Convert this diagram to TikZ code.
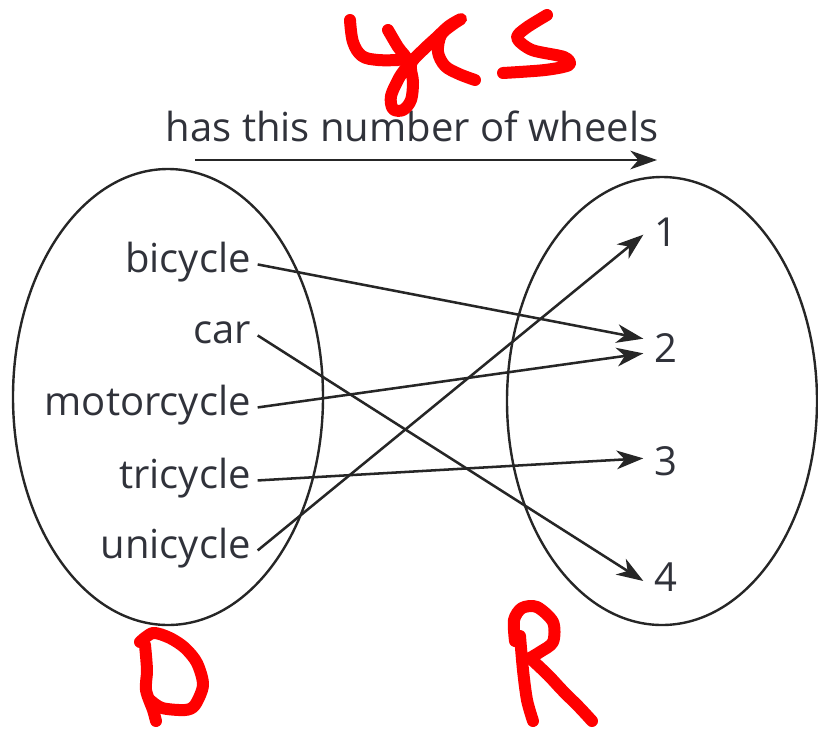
\documentclass[tikz,border=0pt]{standalone}
\usepackage{fontspec}
\setmainfont{Open Sans}
\usetikzlibrary{arrows.meta}
\definecolor{ink}{HTML}{262626}
\definecolor{txt}{HTML}{30323A}
\definecolor{pen}{HTML}{FF0000}
\tikzset{
  setshape/.style={draw=ink, line width=1.8pt},
  lbl/.style={text=txt, font=\fontsize{30}{34}\selectfont, inner sep=0pt},
  dom/.style={lbl, anchor=base east},
  rng/.style={lbl, anchor=west},
  mapline/.style={draw=ink, line width=1.9pt, -{Stealth[length=20pt, width=14pt, inset=6pt]}},
  scrawl/.style={draw=pen, line width=9pt, line cap=round, line join=round}
}
\begin{document}
\begin{tikzpicture}[x=0.75pt, y=-0.75pt]
\useasboundingbox (0,0) rectangle (818,729);
% sets
\draw[setshape] (168,397) ellipse [x radius=155, y radius=228];
\draw[setshape] (662,401) ellipse [x radius=155, y radius=224];
% title and arrow
\node[lbl, anchor=base] (title) at (412,141) {has this number of wheels};
\coordinate (ta) at (195,160);
\coordinate (tb) at (657,160);
\draw[mapline] (ta) -- (tb);
% domain
\node[dom] (bicycle) at (251,272) {bicycle};
\node[dom] (car) at (251,343) {car};
\node[dom] (motorcycle) at (251,415) {motorcycle};
\node[dom] (tricycle) at (251,488) {tricycle};
\node[dom] (unicycle) at (251,558) {unicycle};
% range
\node[rng] (n1) at (654,232) {1};
\node[rng] (n2) at (654,348) {2};
\node[rng] (n3) at (654,461) {3};
\node[rng] (n4) at (654,577) {4};
% mappings
\draw[mapline] ([xshift=5pt,yshift=3pt]bicycle.mid east) -- ([xshift=-8pt,yshift=7pt]n2.west);
\draw[mapline] ([xshift=5pt,yshift=3pt]car.mid east) -- ([xshift=-8pt,yshift=-3pt]n4.west);
\draw[mapline] ([xshift=5pt,yshift=3pt]motorcycle.mid east) -- ([xshift=-8pt,yshift=-4pt]n2.west);
\draw[mapline] ([xshift=5pt,yshift=3pt]tricycle.mid east) -- ([xshift=-8pt,yshift=2pt]n3.west);
\draw[mapline] ([xshift=5pt,yshift=3pt]unicycle.mid east) -- ([xshift=-8pt,yshift=-2pt]n1.west);
% handwriting: yes
\draw[scrawl] plot[smooth, tension=0.6] coordinates {(350,20) (353,42) (362,56) (378,60) (398,60)};
\draw[scrawl] plot[smooth, tension=0.55] coordinates {(388,30) (398,47) (408,62) (399,78) (391,96) (393,109) (403,110) (411,100) (413,82) (411,64) (422,51) (436,38) (449,26) (461,19) (452,25) (441,35) (438,52) (445,66) (459,74) (475,80)};
\draw[scrawl] plot[smooth, tension=0.5] coordinates {(547,15) (526,28) (517,38) (532,50) (564,57) (569,65) (545,70) (503,73)};
% handwriting: D
\draw[scrawl] plot[smooth, tension=0.5] coordinates {(145,645) (147,670) (146,690) (153,710) (156,721)};
\draw[scrawl] plot[smooth, tension=0.5] coordinates {(140,642) (153,633) (170,638) (185,648) (197,663) (203,685) (195,705) (185,710) (162,708) (150,700)};
% handwriting: R
\draw[scrawl] plot[smooth, tension=0.5] coordinates {(520,636) (523,670) (527,700) (533,721)};
\draw[scrawl] plot[smooth, tension=0.5] coordinates {(515,641) (514,620) (522,608) (537,607) (553,622) (553,642) (540,652) (530,658)};
\draw[scrawl] plot[smooth, tension=0.5] coordinates {(530,658) (548,675) (562,690) (580,708) (592,721)};
\end{tikzpicture}
\end{document}
